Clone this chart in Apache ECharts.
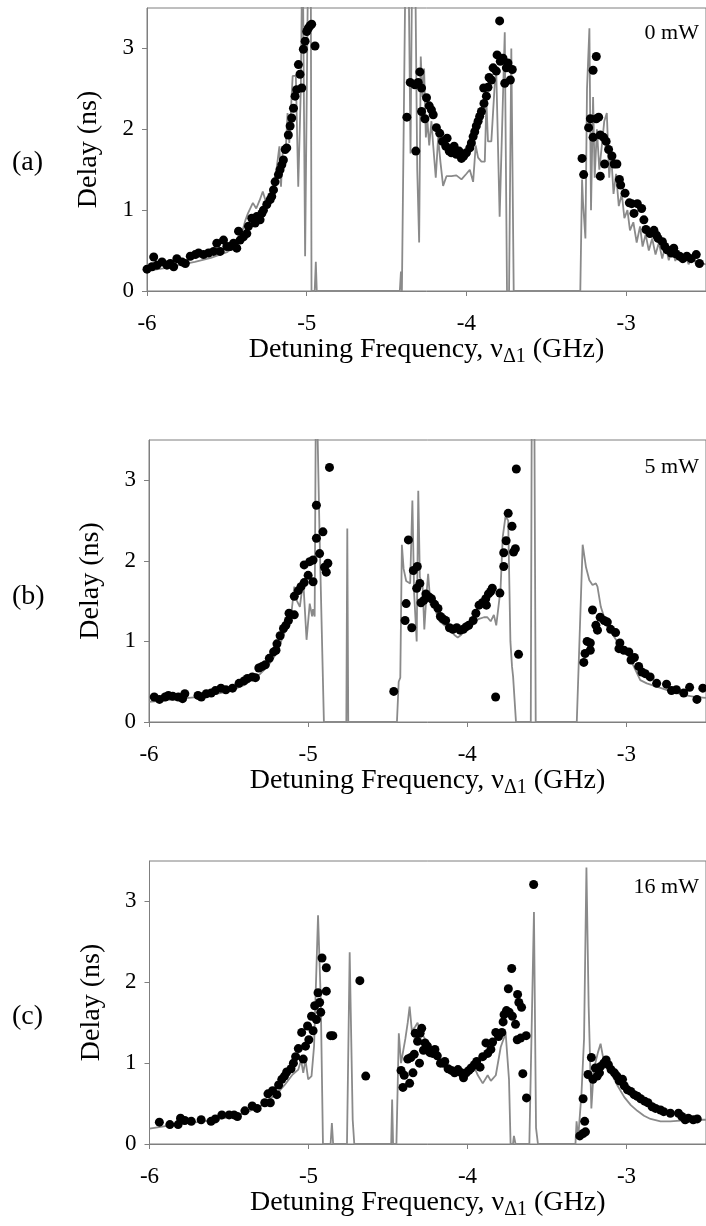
<!DOCTYPE html>
<html>
<head>
<meta charset="utf-8">
<script src="https://cdn.jsdelivr.net/npm/echarts@6/dist/echarts.min.js"></script>
<style>html,body{margin:0;padding:0;background:#fff;}#c{width:706px;height:1226px;}</style>
</head>
<body>
<div id="c"></div>
<script>
const xTicks = [-6, -5, -4, -3];
const yTicks = [0, 1, 2, 3];
const panelLabels = ['(a)', '(b)', '(c)'];
const powerLabels = ['0 mW', '5 mW', '16 mW'];

const lineA = [[-6.0,0.25],[-5.9,0.28],[-5.8,0.32],[-5.7,0.36],[-5.6,0.41],[-5.5,0.48],[-5.45,0.55],[-5.42,0.62],[-5.383,0.88],[-5.368,0.96],[-5.337,1.09],[-5.316,1.02],[-5.295,1.12],[-5.275,1.23],[-5.254,1.09],[-5.233,1.15],[-5.192,1.46],[-5.171,1.79],[-5.161,1.29],[-5.151,1.7],[-5.130,1.79],[-5.120,2.2],[-5.109,1.83],[-5.088,2.66],[-5.068,2.66],[-5.053,1.29],[-5.037,2.5],[-5.026,4.5],[-5.018,4.5],[-5.010,0.43],[-4.989,4.5],[-4.975,4.5],[-4.970,0],[-4.950,0],[-4.943,0.36],[-4.937,0],[-4.417,0],[-4.410,0.24],[-4.404,0],[-4.392,0],[-4.379,4.5],[-4.365,4.5],[-4.350,1.7],[-4.338,4.5],[-4.323,4.5],[-4.308,1.5],[-4.296,0.6],[-4.286,2.9],[-4.275,2.4],[-4.265,2.75],[-4.254,1.9],[-4.244,2.1],[-4.233,1.8],[-4.219,2.1],[-4.208,1.8],[-4.192,1.4],[-4.177,1.9],[-4.163,1.6],[-4.146,1.3],[-4.125,1.42],[-4.094,1.42],[-4.063,1.43],[-4.031,1.38],[-4.0,1.45],[-3.979,1.5],[-3.958,1.35],[-3.942,1.8],[-3.927,1.65],[-3.906,1.6],[-3.885,1.6],[-3.875,2.35],[-3.865,1.85],[-3.844,1.85],[-3.823,2.55],[-3.813,2.7],[-3.792,0.92],[-3.760,3.2],[-3.746,0],[-3.733,0],[-3.719,3.0],[-3.704,0],[-3.287,0],[-3.276,1.38],[-3.270,1.1],[-3.255,0.65],[-3.245,2.5],[-3.230,3.25],[-3.220,1.0],[-3.207,2.4],[-3.197,1.4],[-3.183,2.0],[-3.168,1.5],[-3.152,1.8],[-3.137,2.1],[-3.121,2.2],[-3.106,1.4],[-3.094,1.7],[-3.079,1.2],[-3.063,1.45],[-3.046,1.05],[-3.027,1.2],[-3.011,0.9],[-2.992,1.0],[-2.976,0.75],[-2.955,0.85],[-2.934,0.6],[-2.913,0.8],[-2.897,0.55],[-2.878,0.7],[-2.858,0.5],[-2.837,0.65],[-2.816,0.45],[-2.795,0.6],[-2.774,0.4],[-2.754,0.57],[-2.733,0.38],[-2.712,0.55],[-2.692,0.37],[-2.671,0.5],[-2.650,0.35],[-2.630,0.45],[-2.609,0.33],[-2.582,0.45],[-2.561,0.32],[-2.541,0.35],[-2.5,0.33]];

const dotsA = [[-6.0,0.27],[-5.969,0.30],[-5.958,0.42],[-5.938,0.32],[-5.906,0.36],[-5.875,0.32],[-5.854,0.34],[-5.833,0.30],[-5.813,0.40],[-5.781,0.36],[-5.760,0.34],[-5.729,0.43],[-5.698,0.45],[-5.677,0.47],[-5.646,0.45],[-5.615,0.47],[-5.583,0.49],[-5.563,0.59],[-5.542,0.49],[-5.521,0.63],[-5.5,0.55],[-5.479,0.55],[-5.458,0.59],[-5.438,0.53],[-5.427,0.74],[-5.417,0.63],[-5.396,0.67],[-5.375,0.71],[-5.365,0.80],[-5.344,0.90],[-5.323,0.84],[-5.313,0.92],[-5.292,0.88],[-5.281,0.96],[-5.271,1.00],[-5.25,1.07],[-5.229,1.13],[-5.219,1.17],[-5.208,1.25],[-5.198,1.35],[-5.177,1.44],[-5.167,1.50],[-5.156,1.56],[-5.146,1.62],[-5.135,1.75],[-5.125,1.77],[-5.115,1.93],[-5.104,2.04],[-5.094,2.14],[-5.083,2.26],[-5.073,2.41],[-5.063,2.49],[-5.052,2.80],[-5.042,2.68],[-5.031,2.51],[-5.021,2.99],[-5.010,3.09],[-5.0,3.21],[-4.990,3.25],[-4.979,3.28],[-4.969,3.30],[-4.948,3.03],
[-4.373,2.15],[-4.352,2.58],[-4.323,2.55],[-4.302,2.58],[-4.292,2.71],[-4.281,2.51],[-4.317,1.73],[-4.281,2.22],[-4.260,2.13],[-4.250,2.39],[-4.233,2.29],[-4.219,2.24],[-4.208,2.18],[-4.188,2.02],[-4.167,1.95],[-4.150,1.85],[-4.129,1.79],[-4.121,1.89],[-4.108,1.73],[-4.094,1.71],[-4.077,1.79],[-4.063,1.69],[-4.046,1.73],[-4.031,1.64],[-4.017,1.67],[-4.0,1.71],[-3.979,1.77],[-3.969,1.83],[-3.958,1.91],[-3.948,1.97],[-3.938,2.04],[-3.927,2.10],[-3.917,2.16],[-3.906,2.22],[-3.890,2.32],[-3.875,2.41],[-3.892,2.51],[-3.865,2.52],[-3.858,2.64],[-3.844,2.61],[-3.833,2.76],[-3.813,2.72],[-3.808,2.92],[-3.792,3.34],[-3.788,2.84],[-3.771,2.88],[-3.760,2.57],[-3.750,2.76],[-3.740,2.82],[-3.725,2.61],[-3.713,2.74],
[-3.276,1.64],[-3.266,1.44],[-3.235,2.02],[-3.224,2.13],[-3.207,2.73],[-3.207,1.90],[-3.187,2.90],[-3.187,2.13],[-3.172,2.15],[-3.162,1.93],[-3.162,1.42],[-3.141,1.90],[-3.135,1.57],[-3.125,1.85],[-3.110,1.75],[-3.089,1.67],[-3.075,1.57],[-3.058,1.57],[-3.042,1.38],[-3.034,1.31],[-3.007,1.21],[-2.980,1.09],[-2.965,1.08],[-2.951,0.96],[-2.930,1.08],[-2.903,1.02],[-2.889,0.88],[-2.876,0.76],[-2.851,0.71],[-2.826,0.75],[-2.810,0.69],[-2.800,0.65],[-2.773,0.61],[-2.758,0.55],[-2.744,0.51],[-2.717,0.47],[-2.702,0.53],[-2.690,0.46],[-2.665,0.43],[-2.645,0.40],[-2.620,0.43],[-2.593,0.40],[-2.561,0.45],[-2.541,0.34]];

const lineB = [[-6,0.25],[-5.9,0.27],[-5.8,0.29],[-5.7,0.31],[-5.6,0.34],[-5.5,0.38],[-5.4,0.46],[-5.3,0.6],[-5.25,0.7],[-5.2,0.85],[-5.15,1.1],[-5.12,1.3],[-5.103,1.39],[-5.087,1.68],[-5.072,1.51],[-5.052,1.43],[-5.031,1.76],[-5.010,1.02],[-4.990,1.47],[-4.975,1.31],[-4.969,1.40],[-4.959,1.31],[-4.950,4.5],[-4.938,4.5],[-4.928,2.3],[-4.901,0],[-4.760,0],[-4.754,2.40],[-4.748,0],[-4.442,0],[-4.431,0.5],[-4.421,0.55],[-4.411,2.2],[-4.400,1.9],[-4.384,1.75],[-4.359,1.72],[-4.345,2.75],[-4.334,1.6],[-4.318,1.0],[-4.308,2.87],[-4.298,1.8],[-4.281,1.7],[-4.270,1.15],[-4.256,1.6],[-4.246,1.84],[-4.231,1.45],[-4.215,1.5],[-4.194,1.35],[-4.174,1.25],[-4.143,1.2],[-4.112,1.15],[-4.081,1.08],[-4.060,1.05],[-4.039,1.08],[-4.008,1.15],[-3.977,1.2],[-3.957,1.25],[-3.926,1.28],[-3.895,1.3],[-3.874,1.3],[-3.853,1.25],[-3.833,1.33],[-3.818,1.2],[-3.791,1.65],[-3.777,2.3],[-3.760,2.55],[-3.743,2.5],[-3.729,1.0],[-3.719,0.69],[-3.712,0.56],[-3.705,0.58],[-3.694,0],[-3.601,0],[-3.594,4.5],[-3.580,4.5],[-3.570,0],[-3.312,0],[-3.275,2.2],[-3.254,1.92],[-3.233,1.76],[-3.213,1.70],[-3.192,1.72],[-3.182,1.68],[-3.161,1.43],[-3.120,1.18],[-3.078,1.06],[-3.037,0.93],[-2.996,0.85],[-2.954,0.69],[-2.913,0.52],[-2.872,0.48],[-2.810,0.44],[-2.748,0.40],[-2.686,0.36],[-2.624,0.33],[-2.562,0.31],[-2.5,0.3]];

const dotsB = [[-5.967,0.31],[-5.934,0.28],[-5.899,0.31],[-5.878,0.33],[-5.851,0.32],[-5.816,0.31],[-5.789,0.29],[-5.775,0.35],[-5.692,0.33],[-5.671,0.31],[-5.640,0.35],[-5.609,0.36],[-5.583,0.39],[-5.548,0.42],[-5.517,0.40],[-5.475,0.42],[-5.434,0.48],[-5.403,0.51],[-5.382,0.54],[-5.351,0.56],[-5.331,0.55],[-5.310,0.67],[-5.289,0.69],[-5.269,0.71],[-5.244,0.79],[-5.217,0.87],[-5.202,0.89],[-5.196,0.97],[-5.176,1.07],[-5.155,1.16],[-5.140,1.20],[-5.124,1.26],[-5.120,1.35],[-5.087,1.33],[-5.087,1.56],[-5.062,1.63],[-5.045,1.68],[-5.025,1.73],[-5.025,1.95],[-5.000,1.82],[-4.990,1.99],[-4.969,1.74],[-4.969,2.01],[-4.948,2.28],[-4.948,2.69],[-4.928,2.09],[-4.907,2.36],[-4.897,1.92],[-4.886,1.86],[-4.876,1.97],[-4.866,3.16],
[-4.462,0.38],[-4.391,1.26],[-4.384,1.47],[-4.370,2.26],[-4.349,1.17],[-4.339,1.88],[-4.314,1.93],[-4.318,1.66],[-4.298,1.72],[-4.291,1.48],[-4.273,1.51],[-4.260,1.59],[-4.239,1.55],[-4.225,1.53],[-4.205,1.46],[-4.184,1.41],[-4.169,1.31],[-4.153,1.28],[-4.136,1.26],[-4.112,1.17],[-4.091,1.15],[-4.066,1.17],[-4.045,1.14],[-4.025,1.15],[-4.008,1.18],[-3.991,1.20],[-3.963,1.26],[-3.946,1.35],[-3.926,1.45],[-3.905,1.48],[-3.884,1.53],[-3.880,1.45],[-3.867,1.59],[-3.853,1.62],[-3.843,1.66],[-3.822,0.31],[-3.795,1.60],[-3.771,1.93],[-3.771,2.10],[-3.756,2.25],[-3.743,2.59],[-3.719,2.43],[-3.709,2.11],[-3.698,2.15],[-3.692,3.14],[-3.678,0.84],
[-3.268,0.74],[-3.260,0.85],[-3.247,1.00],[-3.227,0.89],[-3.227,0.98],[-3.213,1.39],[-3.192,1.20],[-3.182,1.14],[-3.165,1.30],[-3.140,1.26],[-3.120,1.24],[-3.099,1.15],[-3.068,1.11],[-3.041,0.98],[-3.047,0.91],[-3.016,0.89],[-2.985,0.87],[-2.971,0.77],[-2.950,0.80],[-2.923,0.69],[-2.903,0.62],[-2.882,0.60],[-2.851,0.56],[-2.810,0.48],[-2.748,0.47],[-2.717,0.39],[-2.686,0.40],[-2.640,0.36],[-2.603,0.43],[-2.557,0.28],[-2.52,0.42]];

const lineC = [[-6,0.19],[-5.9,0.22],[-5.8,0.25],[-5.7,0.27],[-5.6,0.3],[-5.5,0.33],[-5.4,0.38],[-5.3,0.47],[-5.2,0.62],[-5.15,0.73],[-5.1,0.86],[-5.064,0.92],[-5.047,1.04],[-5.033,0.88],[-5.019,1.04],[-5.002,0.80],[-4.981,0.84],[-4.965,1.21],[-4.940,2.83],[-4.923,1.79],[-4.909,0],[-4.861,0],[-4.853,0.26],[-4.845,0],[-4.758,0],[-4.741,2.37],[-4.722,0.30],[-4.712,0],[-4.480,0],[-4.474,0.55],[-4.468,0],[-4.447,0],[-4.432,1.37],[-4.418,1.0],[-4.391,1.3],[-4.376,1.5],[-4.364,1.7],[-4.350,1.4],[-4.329,1.45],[-4.314,1.5],[-4.298,1.4],[-4.267,1.3],[-4.236,1.2],[-4.194,1.1],[-4.153,1.0],[-4.112,0.93],[-4.070,0.9],[-4.029,0.88],[-3.988,0.92],[-3.957,0.95],[-3.935,0.85],[-3.904,0.75],[-3.873,0.85],[-3.853,0.78],[-3.822,0.85],[-3.791,1.2],[-3.760,1.37],[-3.739,0.8],[-3.729,0],[-3.714,0],[-3.708,0.1],[-3.698,0],[-3.611,0],[-3.582,2.87],[-3.569,0.2],[-3.557,0],[-3.321,0],[-3.314,0.28],[-3.304,0.07],[-3.283,0.63],[-3.267,1.3],[-3.252,3.42],[-3.238,1.7],[-3.221,0.44],[-3.207,0.88],[-3.196,1.0],[-3.180,1.13],[-3.163,1.24],[-3.149,1.09],[-3.139,1.05],[-3.097,0.88],[-3.056,0.72],[-3.014,0.58],[-2.973,0.48],[-2.932,0.41],[-2.890,0.35],[-2.849,0.31],[-2.786,0.28],[-2.724,0.28],[-2.662,0.29],[-2.600,0.29],[-2.542,0.30],[-2.5,0.3]];

const dotsC = [[-5.938,0.27],[-5.872,0.24],[-5.820,0.24],[-5.805,0.32],[-5.778,0.29],[-5.737,0.28],[-5.675,0.30],[-5.613,0.28],[-5.586,0.31],[-5.545,0.36],[-5.499,0.36],[-5.468,0.36],[-5.447,0.34],[-5.400,0.41],[-5.354,0.47],[-5.323,0.44],[-5.275,0.51],[-5.255,0.62],[-5.240,0.51],[-5.226,0.66],[-5.199,0.61],[-5.188,0.73],[-5.168,0.80],[-5.151,0.84],[-5.137,0.89],[-5.110,0.93],[-5.095,1.00],[-5.081,1.08],[-5.064,1.18],[-5.043,1.38],[-5.033,1.05],[-5.019,1.21],[-5.006,1.46],[-4.998,1.29],[-4.981,1.58],[-4.971,1.40],[-4.961,1.71],[-4.950,1.54],[-4.940,1.87],[-4.930,1.75],[-4.923,1.63],[-4.915,2.30],[-4.888,2.18],[-4.888,1.89],[-4.861,1.34],[-4.847,1.34],[-4.677,2.02],[-4.640,0.84],
[-4.418,0.91],[-4.406,0.70],[-4.398,0.85],[-4.376,1.05],[-4.364,0.75],[-4.356,1.07],[-4.343,0.88],[-4.335,1.11],[-4.329,1.37],[-4.314,1.27],[-4.302,1.00],[-4.298,1.37],[-4.288,1.43],[-4.277,1.16],[-4.267,1.25],[-4.252,1.21],[-4.236,1.13],[-4.219,1.12],[-4.205,1.17],[-4.190,1.09],[-4.170,1.00],[-4.153,1.00],[-4.143,1.02],[-4.122,0.93],[-4.101,0.91],[-4.081,0.88],[-4.060,0.92],[-4.039,0.88],[-4.025,0.82],[-4.008,0.88],[-3.991,0.91],[-3.977,0.94],[-3.957,0.98],[-3.942,1.02],[-3.921,0.95],[-3.904,1.08],[-3.884,1.25],[-3.873,1.12],[-3.853,1.17],[-3.842,1.26],[-3.822,1.38],[-3.805,1.33],[-3.784,1.38],[-3.776,1.51],[-3.770,1.60],[-3.755,1.65],[-3.743,1.92],[-3.738,1.63],[-3.722,2.17],[-3.718,1.58],[-3.698,1.48],[-3.685,1.85],[-3.677,1.75],[-3.660,1.69],[-3.687,1.29],[-3.666,1.31],[-3.631,1.34],[-3.652,0.87],[-3.629,0.57],[-3.584,3.21],
[-3.294,0.10],[-3.273,0.13],[-3.258,0.15],[-3.263,0.28],[-3.273,0.56],[-3.242,0.86],[-3.221,1.07],[-3.211,0.80],[-3.196,0.94],[-3.184,0.84],[-3.170,0.88],[-3.163,0.96],[-3.143,1.00],[-3.128,1.04],[-3.114,0.98],[-3.097,0.92],[-3.076,0.88],[-3.060,0.84],[-3.045,0.78],[-3.025,0.80],[-3.014,0.72],[-2.994,0.67],[-2.973,0.65],[-2.952,0.61],[-2.932,0.59],[-2.911,0.56],[-2.886,0.53],[-2.865,0.51],[-2.839,0.46],[-2.817,0.44],[-2.786,0.42],[-2.766,0.40],[-2.724,0.38],[-2.673,0.38],[-2.652,0.34],[-2.631,0.30],[-2.611,0.32],[-2.580,0.30],[-2.555,0.31]];

const lines = [lineA, lineB, lineC];
const dots = [dotsA, dotsB, dotsC];

const FONT = '"Liberation Serif", "Times New Roman", serif';
const AX = '#7f7f7f';
const grids = [
  {left: 147, top: 8, width: 563, height: 283},
  {left: 149, top: 440, width: 563, height: 282},
  {left: 149.5, top: 861, width: 563, height: 283}
];
const labelTops = [149, 583, 1003];
const powerTops = [22, 456, 876];

const option = {
  animation: false,
  backgroundColor: '#fff',
  grid: grids.map(g => Object.assign({show: true, borderColor: AX, borderWidth: 1, backgroundColor: 'transparent'}, g)),
  title: [
    ...panelLabels.map((t, i) => ({text: t, left: 12, top: labelTops[i], padding: 0,
      textStyle: {fontFamily: FONT, fontSize: 28, fontWeight: 'normal', color: '#000'}})),
    ...powerLabels.map((t, i) => ({text: t, right: 7, top: powerTops[i], padding: 0,
      textStyle: {fontFamily: FONT, fontSize: 22, fontWeight: 'normal', color: '#000'}}))
  ],
  xAxis: grids.map((g, i) => ({
    type: 'value', gridIndex: i, min: -6, max: -2.5,
    axisLine: {show: true, onZero: false, lineStyle: {color: AX, width: 1}},
    axisTick: {show: true, customValues: xTicks, length: 5, lineStyle: {color: AX}},
    axisLabel: {customValues: xTicks, fontFamily: FONT, fontSize: 23, color: '#000', margin: 21},
    splitLine: {show: false},
    name: 'Detuning Frequency, ν{sub|Δ1} (GHz)',
    nameLocation: 'middle', nameGap: 41,
    nameTextStyle: {fontFamily: FONT, fontSize: 28, color: '#000',
      rich: {sub: {fontFamily: FONT, fontSize: 20, color: '#000', padding: [14, 0, 0, 0], verticalAlign: 'bottom'}}}
  })),
  yAxis: grids.map((g, i) => ({
    type: 'value', gridIndex: i, min: 0, max: 3.5,
    axisLine: {show: true, lineStyle: {color: AX, width: 1}},
    axisTick: {show: true, customValues: yTicks, length: 5, lineStyle: {color: AX}},
    axisLabel: {customValues: yTicks, fontFamily: FONT, fontSize: 23, color: '#000', margin: 13},
    splitLine: {show: false},
    name: 'Delay (ns)', nameLocation: 'middle', nameGap: 44, nameRotate: 90,
    nameTextStyle: {fontFamily: FONT, fontSize: 28, color: '#000'}
  })),
  series: [
    ...lines.map((d, i) => ({type: 'line', xAxisIndex: i, yAxisIndex: i, data: d, showSymbol: false,
      symbol: 'none', clip: true, z: 2, lineStyle: {color: '#8a8a8a', width: 1.8}})),
    ...dots.map((d, i) => ({type: 'scatter', xAxisIndex: i, yAxisIndex: i, data: d, symbol: 'circle',
      symbolSize: 9, z: 3, itemStyle: {color: '#000', opacity: 1}}))
  ]
};
echarts.init(document.getElementById('c'), null, {renderer: 'canvas'}).setOption(option);
</script>
</body>
</html>
